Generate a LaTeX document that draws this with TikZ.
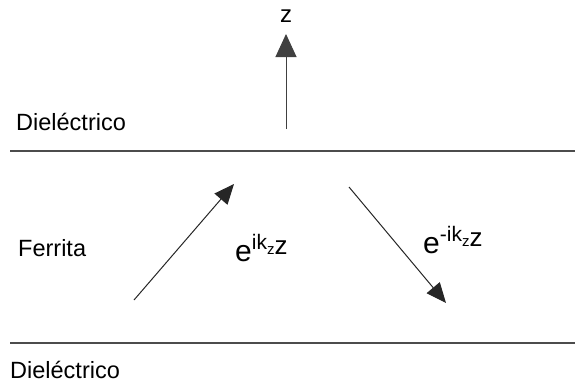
\documentclass[tikz,border=0pt]{standalone}
\usepackage{fontspec}
\setmainfont{Liberation Sans}
\usetikzlibrary{arrows.meta}
\tikzset{
  lbl/.style={font=\fontsize{23.5}{27}\selectfont, inner sep=0pt},
  layer/.style={line width=1.4pt, draw=black!70},
  wave/.style={line width=1pt, draw=black!85, -{Triangle[length=20pt,width=17pt]}},
}
\newcommand{\wexp}[1]{\fontsize{30}{33}\selectfont e\raisebox{12pt}{\fontsize{21}{24}\selectfont #1ik}\raisebox{7pt}{\fontsize{15}{17}\selectfont z}\raisebox{7pt}{\fontsize{26}{29}\selectfont z}}
\begin{document}
\begin{tikzpicture}[x=1pt,y=-1pt]
\useasboundingbox (0,0) rectangle (575,383);
% layers
\coordinate (t1) at (10,151);
\coordinate (t2) at (575,151);
\coordinate (b1) at (10,343);
\coordinate (b2) at (575,343);
\draw[layer] (t1) -- (t2);
\draw[layer] (b1) -- (b2);
% labels
\node[lbl, anchor=base west] (d1) at (16,130) {Dieléctrico};
\node[lbl, anchor=base west] (fe) at (18,256) {Ferrita};
\node[lbl, anchor=base west] (d2) at (10,378) {Dieléctrico};
% z axis
\coordinate (z0) at (286,129);
\coordinate (z1) at (286,34);
\draw[line width=1pt, draw=black!75, -{Triangle[length=23pt,width=21pt]}] (z0) -- (z1);
\node[lbl, font=\fontsize{24}{26}\selectfont, anchor=base] (zl) at (286,22) {z};
% waves
\coordinate (a0) at (134,300);
\coordinate (a1) at (234,184);
\draw[wave] (a0) -- (a1);
\coordinate (c0) at (349,187);
\coordinate (c1) at (446,303);
\draw[wave] (c0) -- (c1);
\node[lbl, anchor=base west] (e1) at (235,261) {\wexp{}};
\node[lbl, anchor=base west] (e2) at (423,253) {\wexp{-}};
\end{tikzpicture}
\end{document}
